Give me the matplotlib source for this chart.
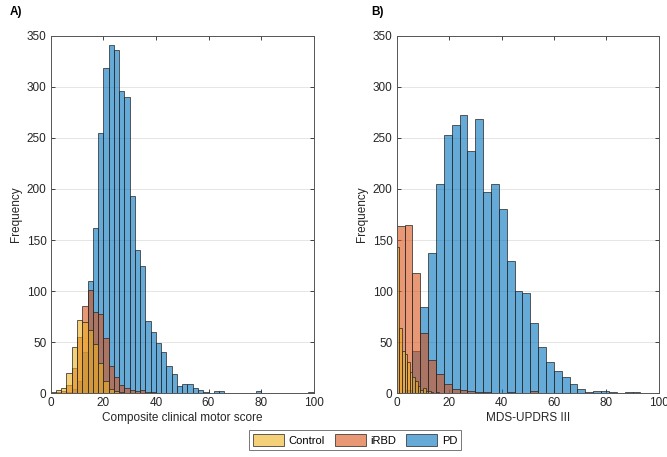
import numpy as np
import matplotlib
matplotlib.use("Agg")
import matplotlib.pyplot as plt
from matplotlib.patches import Patch

plt.rcParams['font.family'] = ['Liberation Sans', 'DejaVu Sans']

# ---------------- data ----------------
# Panel A: composite clinical motor score, bin width 2 (0..100)
binw_a = 2
pd_a = [0, 0, 0, 1, 4, 12, 40, 110, 162, 255,
        318, 341, 336, 296, 290, 193, 140, 125, 71, 60,
        49, 40, 27, 19, 7, 9, 9, 5, 3, 1,
        0, 2, 2, 0, 0, 0, 0, 0, 0, 2,
        0, 0, 0, 0, 0, 0, 0, 0, 0, 1]
irbd_a = [0, 1, 2, 8, 25, 55, 85, 101, 80, 78,
          54, 27, 16, 8, 5, 3, 2, 3, 1, 1]
ctrl_a = [1, 3, 5, 20, 45, 72, 70, 62, 48, 30,
          12, 4, 2, 1]

# Panel B: MDS-UPDRS III
binw_b = 3
pd_b = [0, 3, 41, 84, 137, 205, 253, 263, 272, 237,
        268, 197, 205, 180, 129, 100, 98, 69, 45, 31,
        22, 16, 9, 4, 1, 2, 2, 1, 0, 1, 1]
irbd_b = [164, 165, 118, 59, 33, 19, 9, 4, 3, 2,
          1, 1, 0, 0, 1, 0, 0, 2]
binw_b_ctrl = 1
ctrl_b = [143, 64, 41, 38, 31, 21, 16, 12, 7, 3,
          5, 2, 2, 1, 0, 1]

groups = ['Control', 'iRBD', 'PD']
colors = {'PD': (0.0, 0.447, 0.741),
          'iRBD': (0.850, 0.325, 0.098),
          'Control': (0.929, 0.694, 0.125)}
xlabels = ['Composite clinical motor score', 'MDS-UPDRS III']
panel_labels = ['A)', 'B)']
yticks = [0, 50, 100, 150, 200, 250, 300, 350]
xticks = [0, 20, 40, 60, 80, 100]

# ---------------- figure ----------------
W, H = 667, 457
fig = plt.figure(figsize=(W / 100, H / 100), dpi=100)

def axrect(x0, x1, ytop, ybot):
    return [x0 / W, 1 - ybot / H, (x1 - x0) / W, (ybot - ytop) / H]

axA = fig.add_axes(axrect(50.7, 313.7, 35.7, 393.3))
axB = fig.add_axes(axrect(396.7, 658.7, 35.7, 393.3))

edge = (0.15, 0.15, 0.15, 0.85)

def draw(ax, counts, binw, name):
    counts = np.asarray(counts, dtype=float)
    left = np.arange(len(counts)) * binw
    fc = colors[name] + (0.6,)
    ax.bar(left, counts, width=binw, align='edge', facecolor=fc,
           edgecolor=edge, linewidth=0.6, zorder=2)

draw(axA, pd_a, binw_a, 'PD')
draw(axA, irbd_a, binw_a, 'iRBD')
draw(axA, ctrl_a, binw_a, 'Control')

draw(axB, pd_b, binw_b, 'PD')
draw(axB, irbd_b, binw_b, 'iRBD')
draw(axB, ctrl_b, binw_b_ctrl, 'Control')

axis_col = '#262626'
for ax, xl, pl in zip([axA, axB], xlabels, panel_labels):
    ax.set_xlim(0, 100)
    ax.set_ylim(0, 350)
    ax.set_xticks(xticks)
    ax.set_yticks(yticks)
    ax.tick_params(direction='in', length=3, width=0.6, colors=axis_col,
                   labelsize=8.5, top=True, right=True, pad=3)
    for sp in ax.spines.values():
        sp.set_color('#555555')
        sp.set_linewidth(0.7)
    ax.yaxis.grid(True, color=(0.15, 0.15, 0.15), alpha=0.12, linewidth=0.7)
    ax.set_axisbelow(True)
    ax.set_xlabel(xl, fontsize=8.5, color=axis_col, labelpad=2)
    ax.set_ylabel('Frequency', fontsize=8.5, color=axis_col, labelpad=3)

fig.text(10 / W, 1 - 12 / H, 'A)', fontsize=8.5, fontweight='bold',
         ha='left', va='center', color='black')
fig.text(371 / W, 1 - 12 / H, 'B)', fontsize=8.5, fontweight='bold',
         ha='left', va='center', color='black')

handles = [Patch(facecolor=colors[g] + (0.6,), edgecolor=edge, linewidth=0.6)
           for g in groups]
leg = fig.legend(handles, groups, loc='center', ncol=3,
                 bbox_to_anchor=(355 / W, 1 - 440 / H), fontsize=8,
                 frameon=True, fancybox=False, edgecolor='#555555',
                 handlelength=2.8, handleheight=1.3, columnspacing=0.9,
                 handletextpad=0.4, borderpad=0.35, borderaxespad=0.2)
leg.get_frame().set_linewidth(0.7)

fig.savefig('out.png', dpi=100)
